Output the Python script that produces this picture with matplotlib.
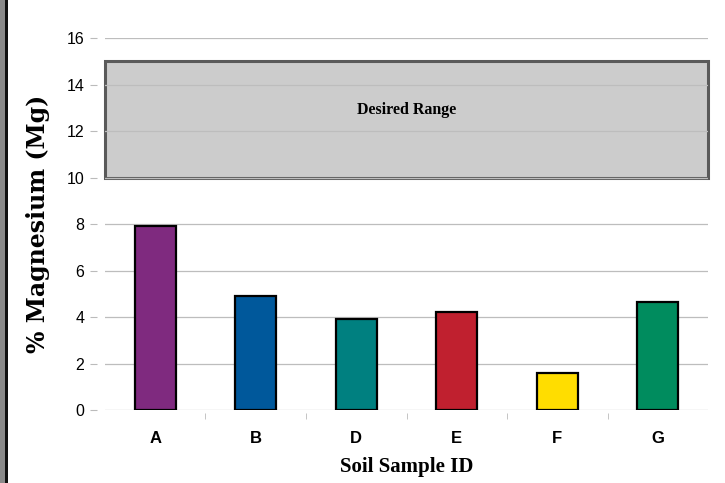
import numpy as np
import matplotlib.pyplot as plt
from matplotlib.patches import Rectangle

samples = ['A', 'B', 'D', 'E', 'F', 'G']
mg_pct = [7.9, 4.9, 3.93, 4.2, 1.58, 4.65]
bar_colors = ['#7f2a7f', '#00589b', '#008080', '#c0202f', '#ffdd00', '#008c5e']
desired_low, desired_high = 10, 15

fig = plt.figure(figsize=(7.25, 4.83), dpi=100)
ax = fig.add_axes([0.1448, 0.1511, 0.8318, 0.7702])

x = np.arange(len(samples))
ax.bar(x, mg_pct, width=0.41, color=bar_colors, edgecolor='black', linewidth=1.6, zorder=3)

# desired range band
ax.add_patch(Rectangle((-0.5, desired_low), len(samples), desired_high - desired_low,
                       facecolor='#cccccc', edgecolor='#5a5a5a', linewidth=2.2,
                       zorder=1, clip_on=False))
ax.text((len(samples) - 1) / 2, 12.9, 'Desired Range', ha='center', va='center',
        family='Liberation Serif', fontweight='bold', fontsize=11.5, zorder=4)

ax.set_xlim(-0.5, len(samples) - 0.5)
ax.set_ylim(0, 16)
ax.set_yticks(range(0, 17, 2))
ax.yaxis.grid(True, color='#bdbdbd', linewidth=0.9)
for ln in ax.get_ygridlines():
    ln.set_zorder(2)
ax.get_ygridlines()[0].set_visible(False)

for s in ax.spines.values():
    s.set_visible(False)
ax.spines['left'].set_position(('outward', 6))
ax.spines['bottom'].set_position(('outward', 2))

ax.set_xticks(x)
ax.set_xticklabels(samples, family='Liberation Sans', fontweight='bold', fontsize=12)
ax.set_xticks(np.arange(0.5, len(samples) - 1, 1), minor=True)
ax.tick_params(axis='x', which='major', length=0, pad=13)
ax.tick_params(axis='x', which='minor', length=4, color='#bbbbbb')
ax.tick_params(axis='y', length=5, color='#bbbbbb', labelsize=11.5, pad=4)
for lbl in ax.get_yticklabels():
    lbl.set_family('Liberation Sans')

ax.set_ylabel('% Magnesium (Mg)', family='DejaVu Serif', fontweight='bold',
              fontsize=17, labelpad=12)
ax.set_xlabel('Soil Sample ID', family='Liberation Serif', fontweight='bold',
              fontsize=15, labelpad=8)

# textured left border
fig.add_artist(Rectangle((0, 0), 0.007, 1, transform=fig.transFigure,
                         facecolor='#8a8a8a', edgecolor='none'))
fig.add_artist(Rectangle((0.007, 0), 0.0035, 1, transform=fig.transFigure,
                         facecolor='#111111', edgecolor='none'))

fig.savefig('out.png', dpi=100)
